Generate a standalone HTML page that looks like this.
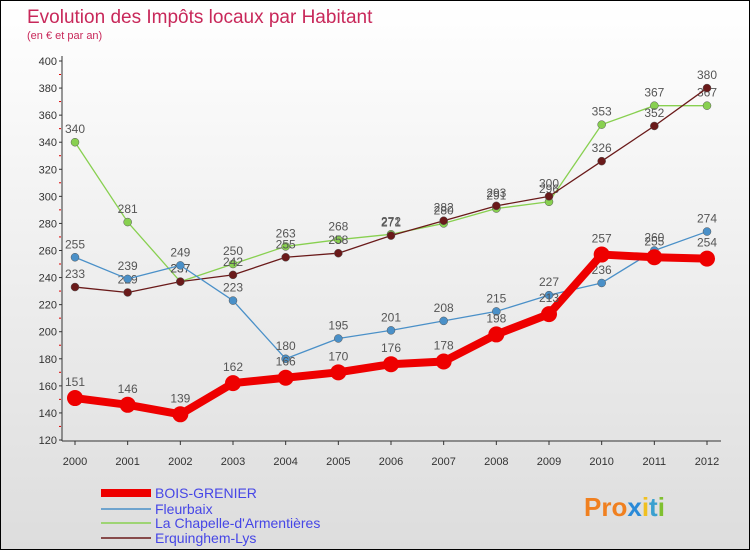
<!DOCTYPE html>
<html><head><meta charset="utf-8"><style>
html,body{margin:0;padding:0}
body{width:750px;height:550px;overflow:hidden;font-family:"Liberation Sans","DejaVu Sans",sans-serif}
#wrap{position:relative;width:748px;height:548px;border:1px solid #000;background:linear-gradient(#fff,#ddd)}
</style></head><body>
<div id="wrap">
<svg id="c" width="748" height="548" xmlns="http://www.w3.org/2000/svg">
<text x="26" y="22" font-size="19" fill="#c8285a">Evolution des Impôts locaux par Habitant</text>
<text x="26" y="38" font-size="11" fill="#c8285a">(en € et par an)</text>
<g id="axes"></g><g id="series"></g><g id="legend"></g>
<text x="583" y="515" font-size="26" font-weight="bold" fill="#f08020">Pro<tspan fill="#2a8ad8">x</tspan><tspan fill="#f0c020">i</tspan><tspan fill="#3aa0d0">t</tspan><tspan fill="#80c030">i</tspan></text>
</svg></div>
<script>
const years=[2000,2001,2002,2003,2004,2005,2006,2007,2008,2009,2010,2011,2012];
const yTicks=[120,140,160,180,200,220,240,260,280,300,320,340,360,380,400];
const boisGrenier=[151,146,139,162,166,170,176,178,198,213,257,255,254];
const fleurbaix=[255,239,249,223,180,195,201,208,215,227,236,260,274];
const laChapelle=[340,281,237,250,263,268,272,280,291,296,353,367,367];
const erquinghem=[233,229,237,242,255,258,271,282,293,300,326,352,380];
const NS="http://www.w3.org/2000/svg";
const X=i=>74+i*(632/12);
const Y=v=>439-(v-120)*(379/280);
function mk(t,a,p){const e=document.createElementNS(NS,t);for(const k in a)e.setAttribute(k,a[k]);p.appendChild(e);return e;}
const ax=document.getElementById('axes');
const al=mk('line',{x1:61,y1:55,x2:61,y2:440,stroke:'#333'},ax);


const xl=mk('line',{x1:61,y1:440,x2:720,y2:440,stroke:'#333'},ax);


yTicks.forEach((v,k)=>{
 const t=mk('text',{x:56,y:Y(v)+4,'font-size':11,fill:'#333','text-anchor':'end'},ax);t.textContent=v;
 
 
 mk('line',{x1:58,y1:Y(v),x2:61,y2:Y(v),stroke:'#333'},ax);
 if(k>0) mk('line',{x1:58,y1:Y(v)+13.5,x2:60,y2:Y(v)+13.5,stroke:'#d00'},ax);
});
years.forEach((y,i)=>{
 const t=mk('text',{x:X(i),y:464,'font-size':11,fill:'#333','text-anchor':'middle'},ax);t.textContent=y;
 
 
 mk('line',{x1:X(i),y1:440,x2:X(i),y2:444,stroke:'#333'},ax);
});
const sg=document.getElementById('series');
const series=[
 {d:laChapelle,c:'#88d050',w:1.3,r:4,n:'la-chapelle'},
 {d:erquinghem,c:'#6a1a1a',w:1.3,r:4,n:'erquinghem'},
 {d:fleurbaix,c:'#4a90c8',w:1.3,r:4,n:'fleurbaix'},
 {d:boisGrenier,c:'#ee0000',w:8,r:8,n:'bois-grenier'}];
series.forEach(s=>{
 const g=mk('g',{},sg);
 
 
 const p=mk('polyline',{points:s.d.map((v,i)=>X(i)+','+Y(v)).join(' '),fill:'none',stroke:s.c,'stroke-width':s.w,'stroke-linejoin':'round'},g);
 
 
 s.d.forEach((v,i)=>{
  const c=mk('circle',{cx:X(i),cy:Y(v),r:s.r,fill:s.c,stroke:s.w>2?'none':'#555','stroke-width':0.5},g);
  
  
  const t=mk('text',{x:X(i),y:Y(v)-9-(s.w>2?3:0),'font-size':12,fill:'#555','text-anchor':'middle'},g);
  t.textContent=v;
  
  
 });
});
const lg=document.getElementById('legend');
const leg=[['BOIS-GRENIER','#ee0000',8,492],['Fleurbaix','#4a90c8',1.5,508],['La Chapelle-d\'Armentières','#88d050',1.5,522],['Erquinghem-Lys','#6a1a1a',1.5,537]];
leg.forEach(l=>{
 const g=mk('g',{},lg);
 
 
 mk('line',{x1:100,y1:l[3],x2:150,y2:l[3],stroke:l[1],'stroke-width':l[2]},g);
 const t=mk('text',{x:154,y:l[3]+5,'font-size':14,fill:'#4646e6'},g);t.textContent=l[0];
});
</script>
</body></html>
